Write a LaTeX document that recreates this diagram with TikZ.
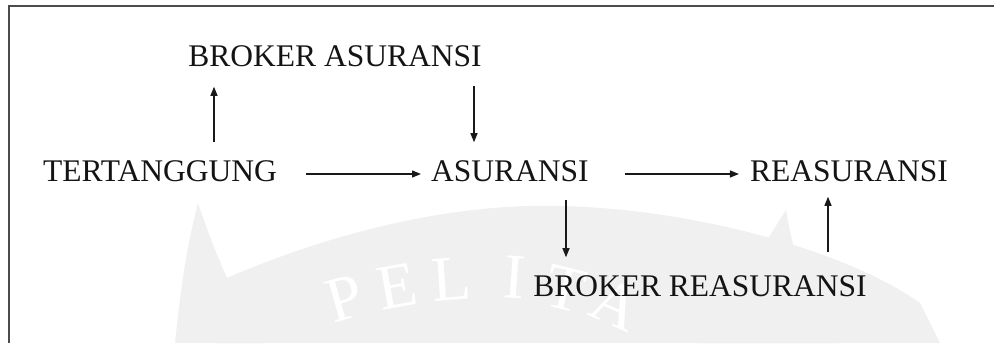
\documentclass[tikz,border=0pt]{standalone}
\usepackage{fontspec}
\setmainfont{Liberation Serif}
\usetikzlibrary{arrows.meta,calc}
\begin{document}
\begin{tikzpicture}[x=1pt,y=1pt,
  txt/.style={font=\fontsize{31.5}{36}\selectfont, inner sep=0pt, text=black!92},
  arr/.style={line width=1.2pt, draw=black!90, -{Triangle[length=9pt,width=7pt]}},
  wmshape/.style={fill=black!6, draw=none},
  wmletter/.style={font=\fontsize{64}{70}\selectfont, text=white, inner sep=0pt}]
\useasboundingbox (0,0) rectangle (994,343);

% faint emblem in the background
\fill[wmshape] (215,0) -- (222,63) .. controls (330,110) and (450,140) .. (560,137)
  .. controls (700,134) and (850,90) .. (920,40) -- (940,0) -- cycle;
\fill[wmshape] (175,0) .. controls (182,70) and (190,110) .. (198,140)
  .. controls (215,90) and (235,40) .. (265,0) -- cycle;
\fill[wmshape] (700,0) .. controls (735,50) and (765,100) .. (786,133)
  .. controls (795,80) and (810,40) .. (835,0) -- cycle;
\node[wmletter, rotate=16]  at (345,45) {P};
\node[wmletter, rotate=10]  at (397,57) {E};
\node[wmletter, rotate=4]   at (452,64) {L};
\node[wmletter, rotate=-4]  at (515,66) {I};
\node[wmletter, rotate=-14] at (566,54) {T};
\node[wmletter, rotate=-24] at (616,38) {A};

% frame
\draw[line width=1.8pt, black!70] (994,337) -- (9,337) -- (9,0);

% parties
\node[txt] (bka)  at (335,287) {BROKER ASURANSI};
\node[txt] (tert) at (160,172) {TERTANGGUNG};
\node[txt] (asu)  at (510,172) {ASURANSI};
\node[txt] (rea)  at (849,172) {REASURANSI};
\node[txt] (bkr)  at (700,57)  {BROKER REASURANSI};

% flows
\draw[arr] ([xshift=29pt,yshift=-3pt]tert.east) -- ([xshift=-10pt,yshift=-3pt]asu.west);
\draw[arr] ([xshift=36pt,yshift=-3pt]asu.east) -- ([xshift=-11pt,yshift=-3pt]rea.west);
\draw[arr] ($(tert.north)+(54,18)$) -- ($(tert.north |- bka.south)+(54,-20)$);
\draw[arr] ($(asu.north |- bka.south)+(-36,-19)$) -- ($(asu.north)+(-36,18)$);
\draw[arr] ($(asu.south)+(56,-18)$) -- ($(asu.south |- bkr.north)+(56,18)$);
\draw[arr] ($(rea.south |- bkr.north)+(-21,23)$) -- ($(rea.south)+(-21,-15)$);
\end{tikzpicture}
\end{document}
